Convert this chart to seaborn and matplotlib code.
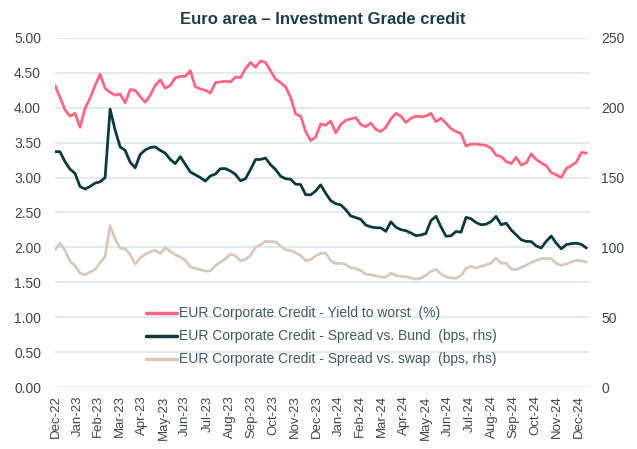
import matplotlib
matplotlib.use("Agg")
import matplotlib.pyplot as plt
import matplotlib.dates as mdates
import seaborn as sns
import numpy as np
import pandas as pd

# ---------------- data (weekly readings, Fridays from 30-Dec-2022) ----------------
start_date = "2022-12-30"

yield_to_worst = [
    4.32, 4.15, 3.97, 3.88, 3.92, 3.72, 3.99, 4.14, 4.32, 4.48,
    4.28, 4.22, 4.18, 4.20, 4.07, 4.26, 4.25, 4.16, 4.08, 4.18,
    4.32, 4.40, 4.28, 4.32, 4.43, 4.45, 4.45, 4.53, 4.30, 4.27,
    4.25, 4.21, 4.36, 4.37, 4.38, 4.37, 4.44, 4.43, 4.56, 4.65,
    4.58, 4.67, 4.65, 4.53, 4.41, 4.36, 4.30, 4.15, 3.91, 3.88,
    3.66, 3.53, 3.58, 3.77, 3.75, 3.81, 3.64, 3.76, 3.82, 3.84,
    3.86, 3.76, 3.73, 3.78, 3.69, 3.66, 3.72, 3.84, 3.92, 3.88,
    3.79, 3.85, 3.88, 3.87, 3.88, 3.92, 3.80, 3.85, 3.78, 3.70,
    3.66, 3.63, 3.45, 3.48, 3.48, 3.47, 3.46, 3.42, 3.32, 3.30,
    3.23, 3.20, 3.29, 3.18, 3.21, 3.34, 3.26, 3.21, 3.17, 3.07,
    3.04, 3.00, 3.13, 3.17, 3.22, 3.36, 3.35,
]

spread_bund = [
    168.6, 168.5, 161.4, 156.0, 153.0, 143.6, 141.8, 143.6, 146.0, 147.0,
    150.0, 199.0, 184.0, 172.0, 169.5, 161.0, 157.0, 166.5, 169.8, 171.5,
    172.0, 169.5, 167.5, 163.0, 160.0, 165.0, 159.5, 154.0, 152.0, 150.0,
    147.5, 151.2, 152.5, 156.4, 156.4, 154.7, 152.3, 147.7, 149.2, 155.7,
    162.9, 163.0, 164.0, 159.2, 155.8, 151.0, 149.2, 148.8, 145.3, 145.0,
    137.8, 137.6, 140.4, 144.8, 138.8, 133.5, 131.3, 130.5, 127.0, 122.5,
    121.4, 120.1, 116.0, 114.7, 114.1, 114.0, 111.5, 118.3, 114.5, 112.7,
    112.0, 110.3, 108.4, 108.9, 110.0, 119.2, 122.3, 114.7, 108.0, 108.3,
    111.4, 110.9, 121.5, 120.5, 117.8, 116.2, 116.6, 118.5, 122.2, 116.2,
    117.4, 112.5, 109.0, 105.5, 104.3, 104.2, 101.0, 99.6, 104.4, 108.1,
    103.0, 99.0, 102.0, 102.7, 103.0, 102.2, 99.6,
]

spread_swap = [
    98.3, 103.1, 97.7, 90.0, 87.0, 81.5, 80.5, 82.3, 84.2, 89.0,
    93.5, 115.5, 106.0, 99.4, 99.0, 95.0, 88.0, 92.5, 95.0, 96.8,
    98.0, 95.5, 100.0, 97.1, 94.8, 93.0, 90.9, 85.9, 85.0, 84.0,
    83.0, 83.2, 86.9, 89.6, 91.7, 95.3, 94.0, 90.4, 91.5, 94.2,
    100.0, 101.8, 104.3, 104.0, 104.0, 101.0, 98.3, 97.7, 96.0, 94.3,
    90.5, 91.2, 94.0, 95.7, 96.0, 90.6, 88.4, 88.6, 87.7, 85.4,
    84.9, 83.4, 80.8, 80.4, 79.6, 78.8, 78.7, 81.5, 80.0, 79.3,
    79.0, 78.1, 77.2, 78.0, 80.0, 82.8, 84.3, 81.0, 79.0, 78.0,
    78.0, 79.8, 85.0, 86.5, 85.2, 86.4, 87.6, 88.8, 92.4, 88.7,
    88.7, 84.5, 84.0, 85.6, 87.3, 89.2, 90.6, 92.0, 91.9, 92.0,
    88.6, 87.2, 88.1, 89.6, 90.7, 90.4, 89.5,
]

labels = [
    "EUR Corporate Credit - Yield to worst  (%)",
    "EUR Corporate Credit - Spread vs. Bund  (bps, rhs)",
    "EUR Corporate Credit - Spread vs. swap  (bps, rhs)",
]
title = "Euro area \u2013 Investment Grade credit"
left_ticks = [0.0, 0.5, 1.0, 1.5, 2.0, 2.5, 3.0, 3.5, 4.0, 4.5, 5.0]
right_ticks = [0, 50, 100, 150, 200, 250]

dates = pd.date_range(start_date, periods=len(yield_to_worst), freq="7D")
month_ticks = pd.date_range("2022-12-31", "2024-12-31", freq="ME")

df = pd.DataFrame({"date": dates, "ytw": yield_to_worst,
                   "bund": spread_bund, "swap": spread_swap})

# ---------------- style ----------------
sns.set_theme(style="white")
plt.rcParams["font.family"] = ["Liberation Sans", "DejaVu Sans"]

PINK = "#ff6480"
DARK = "#0b3a3e"
BEIGE = "#d9c8bc"
GRID = "#d8e4ea"
TXT = "#404548"

fig = plt.figure(figsize=(6.37, 4.49), dpi=100)
ax = fig.add_axes([0.0863, 0.138, 0.8398, 0.7775])
ax2 = ax.twinx()

sns.lineplot(data=df, x="date", y="ytw", ax=ax, color=PINK, lw=2.0, label=labels[0], legend=False)
sns.lineplot(data=df, x="date", y="bund", ax=ax2, color=DARK, lw=2.0, label=labels[1], legend=False)
sns.lineplot(data=df, x="date", y="swap", ax=ax2, color=BEIGE, lw=2.0, label=labels[2], legend=False)

ax.set_ylim(0, 5)
ax2.set_ylim(0, 250)
ax.set_yticks(left_ticks)
ax.set_yticklabels([f"{v:.2f}" for v in left_ticks])
ax2.set_yticks(right_ticks)
ax2.set_yticklabels([str(v) for v in right_ticks])

ax.set_xlim(pd.Timestamp("2022-12-30"), pd.Timestamp("2025-01-15"))
ax.set_xticks(month_ticks)
ax.xaxis.set_major_formatter(mdates.DateFormatter("%b-%y"))

for a in (ax, ax2):
    for s in a.spines.values():
        s.set_visible(False)
    a.set_xlabel("")
    a.set_ylabel("")

ax.set_axisbelow(True)
ax.grid(axis="y", color=GRID, lw=1.1)
ax.grid(axis="x", visible=False)
ax2.grid(False)

ax.tick_params(axis="y", length=0, labelsize=10, colors=TXT, pad=10)
ax2.tick_params(axis="y", length=0, labelsize=10, colors=TXT, pad=8)
ax.tick_params(axis="x", length=4, width=0.8, color="#c8d4da", labelsize=9.5,
               labelcolor=TXT, rotation=90, pad=2)

ax.set_title(title, fontsize=12, fontweight="bold", color="#1c3e44",
             family=["Liberation Sans Narrow", "Liberation Sans", "DejaVu Sans"], pad=10)

h1, l1 = ax.get_legend_handles_labels()
h2, l2 = ax2.get_legend_handles_labels()
leg = ax2.legend(h1 + h2, l1 + l2, loc="center left", bbox_to_anchor=(0.16, 0.145),
                 frameon=False, fontsize=10, handlelength=2.2, handletextpad=0.15,
                 labelspacing=0.65, borderaxespad=0)
for t in leg.get_texts():
    t.set_color("#3d5a60")
for line in leg.get_lines():
    line.set_linewidth(2.5)

fig.savefig("out.png", dpi=100, facecolor="white")
